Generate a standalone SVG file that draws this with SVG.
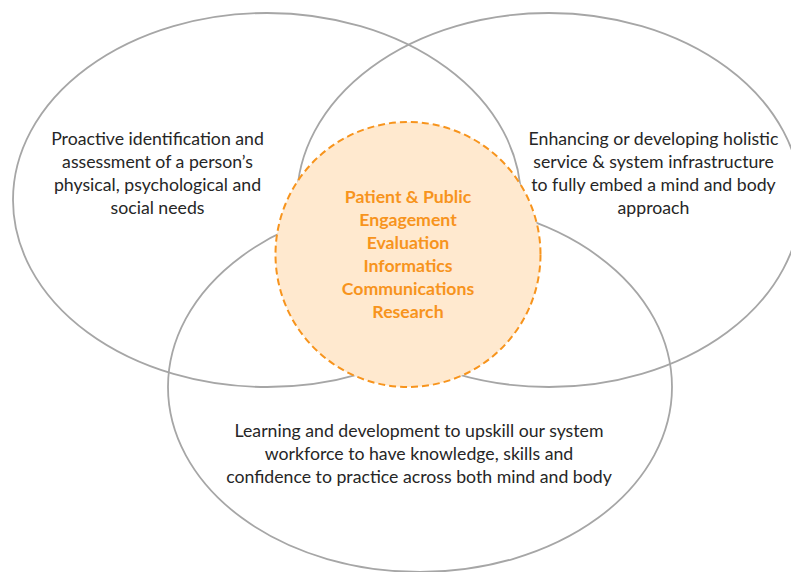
<svg xmlns="http://www.w3.org/2000/svg" width="791" height="572" viewBox="0 0 791 572">
<style>
.ell{fill:none;stroke:#a6a6a6;stroke-width:1.8}
.lbl{font-family:Lato,"Open Sans","Liberation Sans",sans-serif;font-size:17.7px;fill:#262626;text-anchor:middle}
.core{font-family:Lato,"Open Sans","Liberation Sans",sans-serif;font-size:17.7px;font-weight:bold;fill:#f7941d;text-anchor:middle}
</style>
<rect width="791" height="572" fill="#ffffff"/>
<g id="ellipse-assessment"><ellipse class="ell" cx="267" cy="200" rx="254" ry="187"/></g>
<g id="ellipse-infrastructure"><ellipse class="ell" cx="549" cy="200" rx="252" ry="187"/></g>
<g id="ellipse-learning"><ellipse class="ell" cx="420" cy="387" rx="252" ry="185"/></g>
<g id="core">
<circle cx="408" cy="254.5" r="132.5" fill="#ffe9cf" stroke="#f7941d" stroke-width="2" stroke-dasharray="7 4"/>
<text class="core" x="408" y="203">Patient &amp; Public</text>
<text class="core" x="408" y="226">Engagement</text>
<text class="core" x="408" y="249">Evaluation</text>
<text class="core" x="408" y="272">Informatics</text>
<text class="core" x="408" y="295">Communications</text>
<text class="core" x="408" y="318">Research</text>
</g>
<g id="label-assessment">
<text class="lbl" x="157.5" y="145">Proactive identification and</text>
<text class="lbl" x="157.5" y="168">assessment of a person’s</text>
<text class="lbl" x="157.5" y="191">physical, psychological and</text>
<text class="lbl" x="157.5" y="214">social needs</text>
</g>
<g id="label-infrastructure">
<text class="lbl" x="653.5" y="145">Enhancing or developing holistic</text>
<text class="lbl" x="653.5" y="168">service &amp; system infrastructure</text>
<text class="lbl" x="653.5" y="191">to fully embed a mind and body</text>
<text class="lbl" x="653.5" y="214">approach</text>
</g>
<g id="label-learning">
<text class="lbl" x="419" y="437">Learning and development to upskill our system</text>
<text class="lbl" x="419" y="460">workforce to have knowledge, skills and</text>
<text class="lbl" x="419" y="483">confidence to practice across both mind and body</text>
</g>
</svg>
